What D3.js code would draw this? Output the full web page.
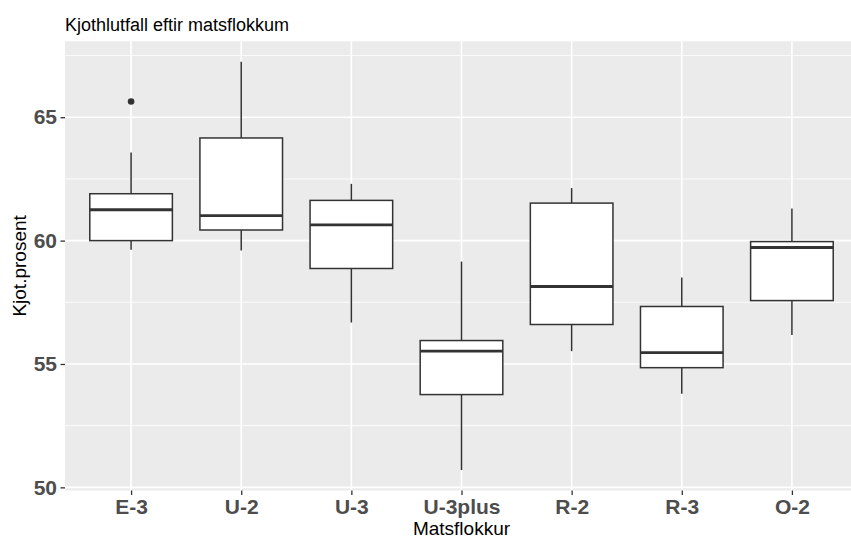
<!DOCTYPE html>
<html lang="en">
<head>
    <meta charset="UTF-8">
    <title>Kjothlutfall eftir matsflokkum</title>
    <script src="https://cdnjs.cloudflare.com/ajax/libs/d3/7.8.5/d3.min.js"></script>
    <style>
        body { margin: 0; background: #fff; }
        svg { display: block; font-family: "Liberation Sans", Arial, sans-serif; }
    </style>
</head>
<body>
<svg width="851" height="539"></svg>

<script>
    // box statistics
    const categories = ["E-3", "U-2", "U-3", "U-3plus", "R-2", "R-3", "O-2"];
    const lower  = [59.63, 59.60, 56.68, 50.70, 55.52, 53.79, 56.17];
    const q1     = [60.00, 60.43, 58.87, 53.76, 56.60, 54.85, 57.57];
    const median = [61.25, 61.01, 60.64, 55.52, 58.14, 55.46, 59.72];
    const q3     = [61.90, 64.16, 61.63, 55.95, 61.52, 57.33, 59.96];
    const upper  = [63.57, 67.25, 62.30, 59.15, 62.13, 58.50, 61.30];
    const outliers = [[65.64], [], [], [], [], [], []];
    const yTicks = [50, 55, 60, 65];
    const yMinor = [52.5, 57.5, 62.5, 67.5];

    const svg = d3.select("svg");
    const panel = { left: 65, top: 41.3, right: 858, bottom: 490.5 };

    const boxes = categories.map((c, i) => ({
        cat: c, lo: lower[i], q1: q1[i], med: median[i], q3: q3[i], hi: upper[i], out: outliers[i]
    }));

    // ggplot style expansion: 5% on continuous, 0.6 units on discrete
    const all = boxes.flatMap(d => [d.lo, d.hi, ...d.out]);
    const [mn, mx] = d3.extent(all);
    const pad = (mx - mn) * 0.05;

    const y = d3.scaleLinear()
        .domain([mn - pad, mx + pad])
        .range([panel.bottom, panel.top]);

    const step = (panel.right - panel.left) / (categories.length - 1 + 1.2);
    const x = d3.scalePoint()
        .domain(categories)
        .range([panel.left + 0.6 * step, panel.right - 0.6 * step]);
    const bw = step * 0.75;

    // panel background
    svg.append("rect")
        .attr("x", panel.left).attr("y", panel.top)
        .attr("width", panel.right - panel.left)
        .attr("height", panel.bottom - panel.top)
        .attr("fill", "#EBEBEB");

    const grid = svg.append("g").attr("stroke", "#fff");
    grid.selectAll(".minor").data(yMinor).enter().append("line")
        .attr("x1", panel.left).attr("x2", panel.right)
        .attr("y1", d => y(d)).attr("y2", d => y(d))
        .attr("stroke-width", 0.8);
    grid.selectAll(".major").data(yTicks).enter().append("line")
        .attr("x1", panel.left).attr("x2", panel.right)
        .attr("y1", d => y(d)).attr("y2", d => y(d))
        .attr("stroke-width", 1.6);
    grid.selectAll(".vx").data(categories).enter().append("line")
        .attr("x1", d => x(d)).attr("x2", d => x(d))
        .attr("y1", panel.top).attr("y2", panel.bottom)
        .attr("stroke-width", 1.6);

    // boxplots
    const g = svg.append("g")
        .selectAll("g")
        .data(boxes)
        .enter()
        .append("g")
        .attr("transform", d => `translate(${x(d.cat)},0)`);

    g.append("line")
        .attr("y1", d => y(d.hi)).attr("y2", d => y(d.q3))
        .attr("stroke", "#333").attr("stroke-width", 1.5);
    g.append("line")
        .attr("y1", d => y(d.q1)).attr("y2", d => y(d.lo))
        .attr("stroke", "#333").attr("stroke-width", 1.5);
    g.append("rect")
        .attr("x", -bw / 2).attr("width", bw)
        .attr("y", d => y(d.q3))
        .attr("height", d => y(d.q1) - y(d.q3))
        .attr("fill", "#fff")
        .attr("stroke", "#333").attr("stroke-width", 1.5);
    g.append("line")
        .attr("x1", -bw / 2).attr("x2", bw / 2)
        .attr("y1", d => y(d.med)).attr("y2", d => y(d.med))
        .attr("stroke", "#333").attr("stroke-width", 2.8);
    g.selectAll("circle")
        .data(d => d.out)
        .enter()
        .append("circle")
        .attr("r", 3.3)
        .attr("cy", d => y(d))
        .attr("fill", "#333");

    // axes
    const yAxis = svg.append("g")
        .attr("transform", `translate(${panel.left},0)`)
        .call(d3.axisLeft(y).tickValues(yTicks).tickSize(4.5).tickPadding(3.5));
    const xAxis = svg.append("g")
        .attr("transform", `translate(0,${panel.bottom})`)
        .call(d3.axisBottom(x).tickSize(4.5).tickPadding(4));

    [yAxis, xAxis].forEach(a => {
        a.select(".domain").remove();
        a.selectAll(".tick line").attr("stroke", "#333").attr("stroke-width", 1.3);
        a.selectAll(".tick text")
            .attr("fill", "#4D4D4D")
            .attr("font-size", 21)
            .attr("font-weight", "bold")
            .attr("font-family", "Liberation Sans, Arial, sans-serif");
    });

    // titles
    svg.append("text")
        .attr("x", panel.left).attr("y", 30.5)
        .attr("font-size", 18)
        .attr("fill", "#000")
        .text("Kjothlutfall eftir matsflokkum");

    svg.append("text")
        .attr("x", x("U-3plus")).attr("y", 534.5)
        .attr("text-anchor", "middle")
        .attr("font-size", 19)
        .text("Matsflokkur");

    svg.append("text")
        .attr("transform", `translate(25.5,${(panel.top + panel.bottom) / 2}) rotate(-90)`)
        .attr("text-anchor", "middle")
        .attr("font-size", 19)
        .text("Kjot.prosent");
</script>
</body>
</html>
